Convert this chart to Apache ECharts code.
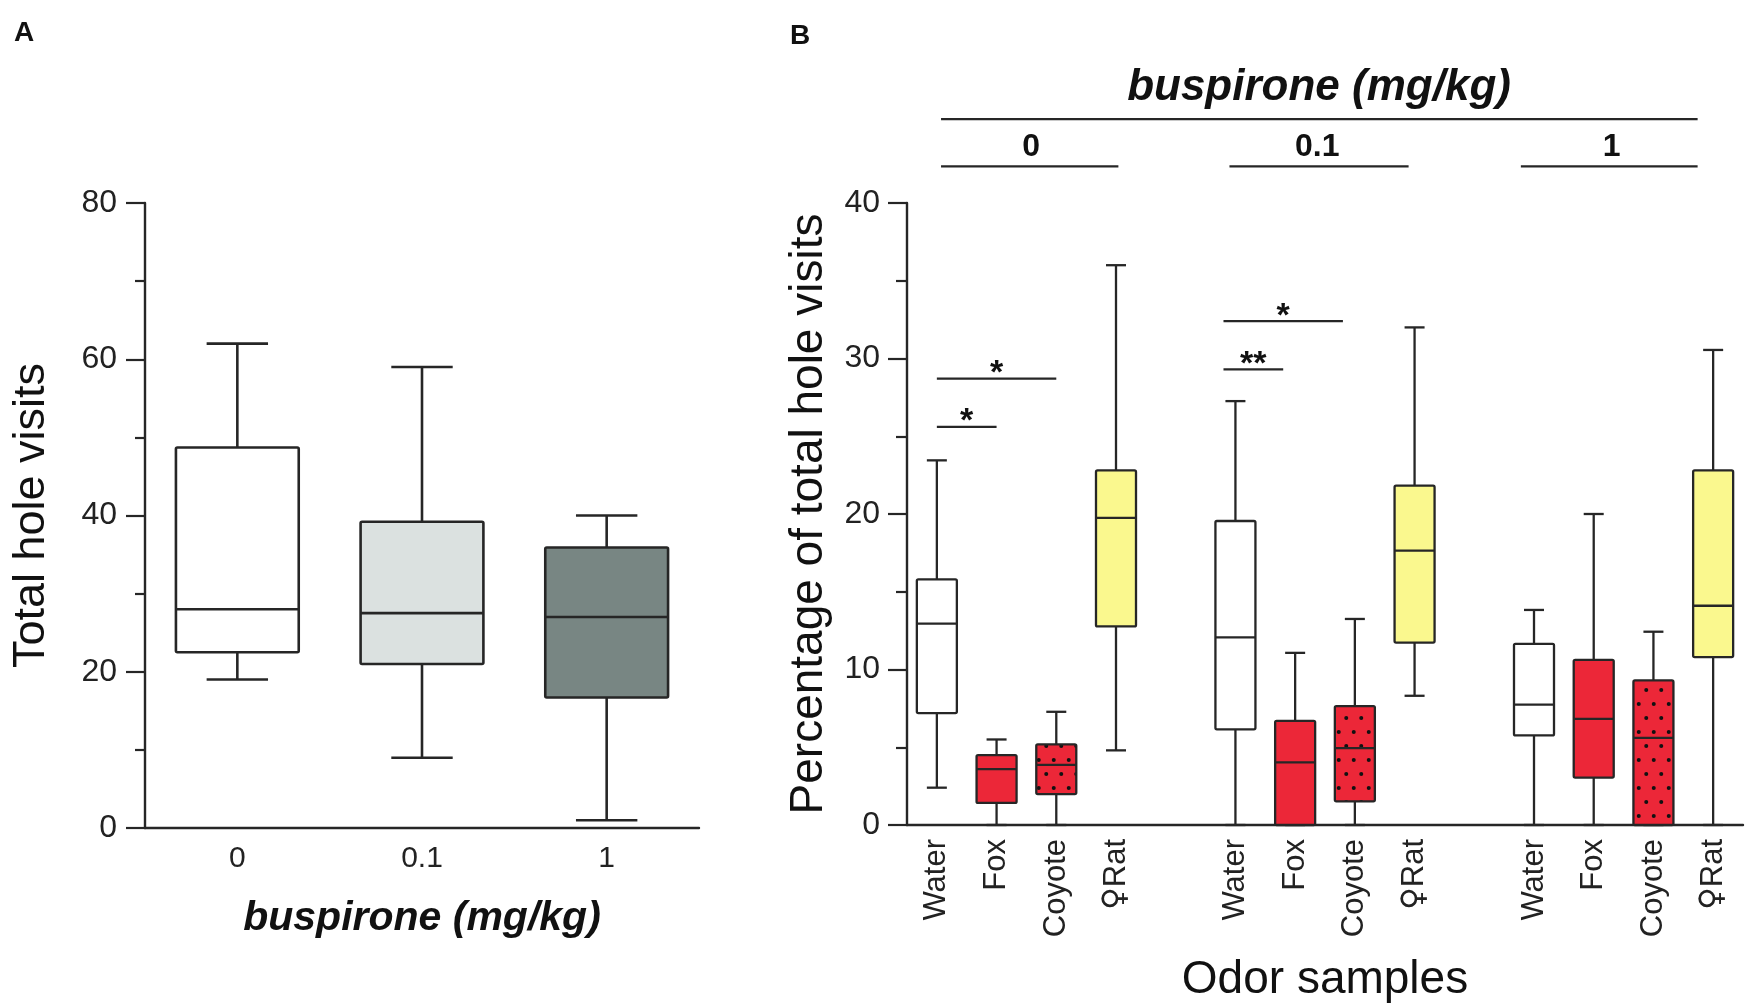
<!DOCTYPE html>
<html>
<head>
<meta charset="utf-8">
<script src="https://cdn.jsdelivr.net/npm/echarts@6.0.0/dist/echarts.min.js"></script>
<style>
  html, body { margin: 0; padding: 0; background: #fff; }
  #main { width: 1750px; height: 1008px; }
</style>
</head>
<body>
<div id="main"></div>
<script>
// ---- panel A: total hole visits per buspirone dose ----
const dosesA = ['0', '0.1', '1'];
// [min, Q1, median, Q3, max]
const boxA0 = [19, 22.5, 28, 48.7, 62];
const boxA01 = [9, 21, 27.5, 39.2, 59];
const boxA1 = [1, 16.7, 27, 35.9, 40];
const ticksA = [0, 20, 40, 60, 80];

// ---- panel B: % of hole visits per odor, per dose ----
const odors = ['Water', 'Fox', 'Coyote', '\u2640Rat'];
const doseGroups = ['0', '0.1', '1'];
const boxB0 = [
  [2.4, 7.2, 12.95, 15.8, 23.45],
  [0, 1.42, 3.59, 4.5, 5.5],
  [0, 1.99, 3.87, 5.19, 7.28],
  [4.8, 12.77, 19.75, 22.8, 36]
];
const boxB01 = [
  [0, 6.15, 12.06, 19.55, 27.26],
  [0, 0, 4.03, 6.7, 11.07],
  [0, 1.52, 4.94, 7.65, 13.25],
  [8.31, 11.73, 17.64, 21.82, 32]
];
const boxB1 = [
  [0, 5.76, 7.74, 11.65, 13.83],
  [0, 3.05, 6.83, 10.62, 20],
  [0, 0, 5.6, 9.3, 12.43],
  [0, 10.8, 14.1, 22.8, 30.55]
];
const ticksB = [0, 10, 20, 30, 40];

// significance brackets: [x from, x to, y] on the odor axis, and their marks
const sigLines = [[0, 1, 25.6], [0, 2, 28.7], [4.8, 5.8, 29.3], [4.8, 6.8, 32.4]];
const sigMarks = ['*', '*', '**', '*'];
// header: dose title line, group lines, group labels
const headerLine = [0.07, 12.74, 45.4];
const groupLines = [[0.07, 3.04], [4.9, 7.9], [9.78, 12.74]];
const groupLineY = 42.35;
const groupLabelX = [1.58, 6.37, 11.3];
const groupLabelY = 43.56;
const headerTitle = 'buspirone (mg/kg)';
const headerTitleXY = [6.4, 47.4];

const FONT = "'Liberation Sans', Arial, Helvetica, sans-serif";
const INK = '#262626';
const RED = '#ec2738';
const YELLOW = '#faf88e';

// dotted red fill used for the coyote boxes
function dotPattern() {
  const c = document.createElement('canvas');
  c.width = 15; c.height = 28;
  const ctx = c.getContext('2d');
  ctx.fillStyle = RED;
  ctx.fillRect(0, 0, 15, 28);
  ctx.fillStyle = '#111';
  [[3.75, 4], [11.25, 18]].forEach(function (p) {
    ctx.beginPath();
    ctx.arc(p[0], p[1], 2, 0, Math.PI * 2);
    ctx.fill();
  });
  return { image: c, repeat: 'repeat' };
}

function boxRenderer(widthRatio, lineW, fillOf) {
  return function (params, api) {
    const x = api.value(0);
    const lo = api.coord([x, api.value(1)]);
    const q1 = api.coord([x, api.value(2)]);
    const md = api.coord([x, api.value(3)]);
    const q3 = api.coord([x, api.value(4)]);
    const hi = api.coord([x, api.value(5)]);
    const bw = api.size([1, 0])[0] * widthRatio;
    const cx = md[0];
    const cap = bw / 4;
    const ls = { stroke: INK, lineWidth: lineW };
    return {
      type: 'group',
      children: [
        { type: 'line', shape: { x1: cx, y1: q3[1], x2: cx, y2: hi[1] }, style: ls },
        { type: 'line', shape: { x1: cx, y1: q1[1], x2: cx, y2: lo[1] }, style: ls },
        { type: 'line', shape: { x1: cx - cap, y1: hi[1], x2: cx + cap, y2: hi[1] }, style: ls },
        { type: 'line', shape: { x1: cx - cap, y1: lo[1], x2: cx + cap, y2: lo[1] }, style: ls },
        {
          type: 'rect',
          shape: { x: cx - bw / 2, y: q3[1], width: bw, height: q1[1] - q3[1], r: 1.5 },
          style: { fill: fillOf(params.dataIndex), stroke: INK, lineWidth: lineW }
        },
        { type: 'line', shape: { x1: cx - bw / 2, y1: md[1], x2: cx + bw / 2, y2: md[1] }, style: ls }
      ]
    };
  };
}

window.addEventListener('load', function () {
  const chart = echarts.init(document.getElementById('main'), null, { renderer: 'canvas' });

  const fillsA = ['#ffffff', '#dbe1e0', '#788683'];
  const dataA = [boxA0, boxA01, boxA1].map(function (b, i) { return [i].concat(b); });

  // 14 slots: 4 odors, a gap, 4 odors, a gap, 4 odors
  const catsB = [];
  doseGroups.forEach(function (g, gi) {
    odors.forEach(function (o) { catsB.push(o); });
    if (gi < doseGroups.length - 1) catsB.push('');
  });
  const dataB = [];
  const fillKeyB = [];
  [boxB0, boxB01, boxB1].forEach(function (grp, gi) {
    grp.forEach(function (b, oi) {
      dataB.push([gi * 5 + oi].concat(b));
      fillKeyB.push(oi);
    });
  });
  const dotted = dotPattern();
  const fillsB = ['#ffffff', RED, dotted, YELLOW];

  const axisLine = { show: true, onZero: false, lineStyle: { color: INK, width: 2.4 } };

  const annSeries = [];
  function segment(x1, x2, y) {
    annSeries.push({
      type: 'line', xAxisIndex: 2, yAxisIndex: 1, clip: false, silent: true,
      symbol: 'none', data: [[x1, y], [x2, y]],
      lineStyle: { color: INK, width: 2.2 }, z: 5
    });
  }
  sigLines.forEach(function (s) { segment(s[0], s[1], s[2]); });
  segment(headerLine[0], headerLine[1], headerLine[2]);
  groupLines.forEach(function (g) { segment(g[0], g[1], groupLineY); });

  const textPoints = [];
  sigLines.forEach(function (s, i) {
    textPoints.push({
      value: [(s[0] + s[1]) / 2, s[2]],
      label: { formatter: sigMarks[i], fontSize: 34, fontWeight: 'bold', offset: [0, -5] }
    });
  });
  groupLabelX.forEach(function (x, i) {
    textPoints.push({
      value: [x, groupLabelY],
      label: { formatter: doseGroups[i], fontSize: 32, fontWeight: 'bold' }
    });
  });
  textPoints.push({
    value: headerTitleXY,
    label: { formatter: headerTitle, fontSize: 44, fontWeight: 'bold', fontStyle: 'italic' }
  });
  annSeries.push({
    type: 'scatter', xAxisIndex: 2, yAxisIndex: 1, clip: false, silent: true,
    symbolSize: 0, data: textPoints, itemStyle: { opacity: 1 },
    label: { show: true, position: 'inside', color: '#111', fontFamily: FONT }
  });

  const option = {
    animation: false,
    backgroundColor: '#ffffff',
    textStyle: { fontFamily: FONT },
    title: [
      { text: 'A', left: 9, top: 14, textStyle: { fontSize: 28, fontWeight: 'bold', color: '#111', fontFamily: FONT } },
      { text: 'B', left: 785, top: 17, textStyle: { fontSize: 28, fontWeight: 'bold', color: '#111', fontFamily: FONT } }
    ],
    grid: [
      { left: 145, top: 203, width: 554, height: 625 },
      { left: 907, top: 203, width: 836, height: 625 }
    ],
    xAxis: [
      {
        type: 'category', gridIndex: 0, data: dosesA,
        axisLine: axisLine, axisTick: { show: false },
        axisLabel: { fontSize: 30, color: '#222', margin: 16, fontFamily: FONT },
        name: 'buspirone (mg/kg)', nameLocation: 'middle', nameGap: 70,
        nameTextStyle: { fontSize: 41, fontWeight: 'bold', fontStyle: 'italic', color: '#111', fontFamily: FONT }
      },
      {
        type: 'category', gridIndex: 1, data: catsB,
        axisLine: axisLine, axisTick: { show: false },
        axisLabel: {
          fontSize: 31, rotate: 90, color: '#222', margin: 14, interval: 0, fontFamily: FONT,
          formatter: function (v) {
            return v.charAt(0) === '\u2640' ? '{sym|\u2640}' + v.slice(1) : v;
          },
          rich: { sym: { fontSize: 31, fontFamily: "'DejaVu Sans', sans-serif", color: '#222' } }
        },
        name: 'Odor samples', nameLocation: 'middle', nameGap: 132,
        nameTextStyle: { fontSize: 46, color: '#111', fontFamily: FONT }
      },
      {
        // hidden helper axis for the header and significance annotations
        type: 'value', gridIndex: 1, min: -0.5, max: 13.5, show: false
      }
    ],
    yAxis: [
      {
        type: 'value', gridIndex: 0, min: ticksA[0], max: ticksA[ticksA.length - 1], interval: 20,
        axisLine: axisLine, splitLine: { show: false },
        axisTick: { show: true, length: 19, lineStyle: { color: INK, width: 2.2 } },
        minorTick: { show: true, splitNumber: 2, length: 10, lineStyle: { color: INK, width: 2.2 } },
        axisLabel: { fontSize: 32, color: '#222', margin: 28, fontFamily: FONT },
        name: 'Total hole visits', nameLocation: 'middle', nameGap: 91,
        nameTextStyle: { fontSize: 45, color: '#111', fontFamily: FONT }
      },
      {
        type: 'value', gridIndex: 1, min: ticksB[0], max: ticksB[ticksB.length - 1], interval: 10,
        axisLine: axisLine, splitLine: { show: false },
        axisTick: { show: true, length: 19, lineStyle: { color: INK, width: 2.2 } },
        minorTick: { show: true, splitNumber: 2, length: 11, lineStyle: { color: INK, width: 2.2 } },
        axisLabel: { fontSize: 32, color: '#222', margin: 27, fontFamily: FONT },
        name: 'Percentage of total hole visits', nameLocation: 'middle', nameGap: 75,
        nameTextStyle: { fontSize: 46, color: '#111', fontFamily: FONT }
      }
    ],
    series: [
      {
        type: 'custom', xAxisIndex: 0, yAxisIndex: 0, data: dataA,
        encode: { x: 0, y: [1, 2, 3, 4, 5] },
        renderItem: boxRenderer(0.665, 2.6, function (i) { return fillsA[i]; })
      },
      {
        type: 'custom', xAxisIndex: 1, yAxisIndex: 1, data: dataB,
        encode: { x: 0, y: [1, 2, 3, 4, 5] },
        renderItem: boxRenderer(0.67, 2.3, function (i) { return fillsB[fillKeyB[i]]; })
      }
    ].concat(annSeries)
  };

  chart.setOption(option);
}, false);
</script>
</body>
</html>
